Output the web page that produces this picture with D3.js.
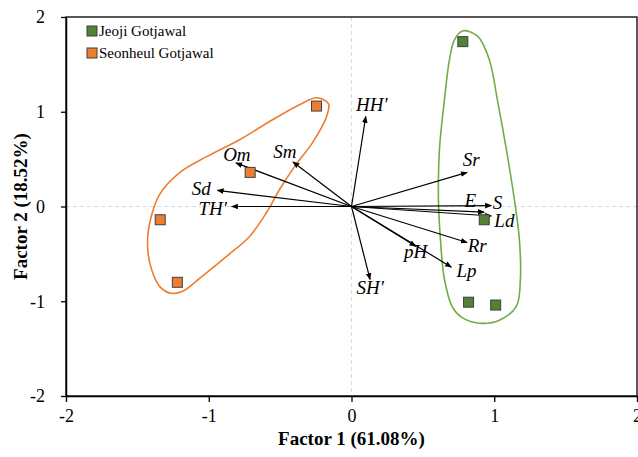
<!DOCTYPE html>
<html>
<head>
<meta charset="utf-8">
<script src="https://cdn.jsdelivr.net/npm/d3@7"></script>
<style>
  body { margin: 0; background: #fff; }
  svg text { font-family: "Liberation Serif", "Times New Roman", serif; }
</style>
</head>
<body>
<div id="chart"></div>
<script>
/* PCA biplot — Jeoji vs Seonheul Gotjawal sites with variable loadings. */

const ticks = [-2, -1, 0, 1, 2];

// site scores
const jeoji = [[0.78, 1.74], [0.93, -0.14], [0.82, -1.01], [1.01, -1.04]];
const seonheul = [[-0.245, 1.06], [-0.71, 0.36], [-1.34, -0.14], [-1.22, -0.80]];

// variable loadings
const varNames = ["HH'", "Sm", "Om", "Sd", "TH'", "Sr", "E", "S", "Ld", "Rr", "pH", "Lp", "SH'"];
const varX = [0.10, -0.41, -0.81, -0.94, -0.84, 0.81, 0.93, 0.98, 0.98, 0.81, 0.45, 0.70, 0.13];
const varY = [0.95, 0.47, 0.46, 0.17, 0.00, 0.36, -0.06, 0.01, -0.10, -0.38, -0.42, -0.64, -0.77];

// hand-drawn group outlines (data units)
const seonheulHull = [
  [-0.245, 1.147], [-0.161, 1.084], [-0.175, 0.947], [-0.273, 0.674], [-0.399, 0.421],
  [-0.504, 0.179], [-0.595, -0.063], [-0.714, -0.316], [-0.875, -0.526], [-1.064, -0.758],
  [-1.183, -0.895], [-1.261, -0.916], [-1.338, -0.853], [-1.401, -0.663], [-1.429, -0.400],
  [-1.408, -0.137], [-1.345, 0.126], [-1.204, 0.358], [-1.015, 0.526], [-0.784, 0.705],
  [-0.553, 0.916], [-0.364, 1.074]
];
const jeojiHull = [
  [0.777, 1.853], [0.882, 1.800], [0.966, 1.547], [1.022, 1.126], [1.085, 0.600],
  [1.141, 0.074], [1.176, -0.347], [1.183, -0.768], [1.155, -1.053], [1.036, -1.200],
  [0.896, -1.232], [0.770, -1.168], [0.707, -1.063], [0.651, -0.768], [0.623, -0.347],
  [0.609, 0.074], [0.616, 0.600], [0.651, 1.126], [0.686, 1.547], [0.721, 1.758]
];

const W = 638, H = 457;
const margin = { top: 17, right: 1, bottom: 61, left: 66 };

const svg = d3.select("#chart").append("svg")
  .attr("width", W).attr("height", H);

const x = d3.scaleLinear().domain([-2, 2]).range([margin.left, W - margin.right]);
const y = d3.scaleLinear().domain([-2, 2]).range([H - margin.bottom, margin.top]);

svg.append("defs").append("marker")
  .attr("id", "arrow").attr("viewBox", "0 0 10 10")
  .attr("refX", 9).attr("refY", 5)
  .attr("markerWidth", 7).attr("markerHeight", 7)
  .attr("markerUnits", "userSpaceOnUse")
  .attr("orient", "auto")
  .append("path").attr("d", "M0,1 L10,5 L0,9 Z").attr("fill", "#000");

// zero reference lines
svg.append("line")
  .attr("x1", x(0)).attr("x2", x(0)).attr("y1", y(2)).attr("y2", y(-2))
  .attr("stroke", "#d9d9d9").attr("stroke-dasharray", "4,3");
svg.append("line")
  .attr("x1", x(-2)).attr("x2", x(2)).attr("y1", y(0)).attr("y2", y(0))
  .attr("stroke", "#d9d9d9").attr("stroke-dasharray", "4,3");

// frame
svg.append("rect")
  .attr("x", x(-2)).attr("y", y(2))
  .attr("width", x(2) - x(-2)).attr("height", y(-2) - y(2))
  .attr("fill", "none").attr("stroke", "#000").attr("stroke-width", 1.3);

// axes
const xAxis = svg.append("g")
  .attr("transform", `translate(0,${y(-2)})`)
  .call(d3.axisBottom(x).tickValues(ticks).tickSize(6).tickSizeOuter(0).tickFormat(d => String(d)));
const yAxis = svg.append("g")
  .attr("transform", `translate(${x(-2)},0)`)
  .call(d3.axisLeft(y).tickValues(ticks).tickSize(5).tickSizeOuter(0).tickFormat(d => String(d)));
[xAxis, yAxis].forEach(a => {
  a.select(".domain").attr("stroke", "#000").attr("stroke-width", 1.5);
  a.selectAll(".tick line").attr("stroke", "#000").attr("stroke-width", 1.3);
  a.selectAll(".tick text")
    .attr("font-family", "Liberation Serif, Times New Roman, serif")
    .attr("font-size", 18).attr("fill", "#000");
});
xAxis.selectAll(".tick text").attr("dy", "0.95em");
yAxis.selectAll(".tick text").attr("dx", "-13px");

// group outlines
const outline = d3.line().x(d => x(d[0])).y(d => y(d[1])).curve(d3.curveCatmullRomClosed);
svg.append("path").attr("d", outline(seonheulHull))
  .attr("fill", "none").attr("stroke", "#ED7D31").attr("stroke-width", 1.6);
svg.append("path").attr("d", outline(jeojiHull))
  .attr("fill", "none").attr("stroke", "#70AD47").attr("stroke-width", 1.6);

// loading vectors (label offsets from arrow tip, px)
const labelOff = {
  "HH'": [6, -5], "Sm": [-8, -4], "Om": [1, -2], "Sd": [-16, 5], "TH'": [-19, 8],
  "Sr": [4, -6], "E": [-14, -5], "S": [6, 3], "Ld": [13, 11], "Rr": [10, 9],
  "pH": [0, 12], "Lp": [15, 10], "SH'": [0, 15]
};
varNames.forEach((n, i) => {
  svg.append("line")
    .attr("x1", x(0)).attr("y1", y(0))
    .attr("x2", x(varX[i])).attr("y2", y(varY[i]))
    .attr("stroke", "#000").attr("stroke-width", 1.2)
    .attr("marker-end", "url(#arrow)");
  const o = labelOff[n];
  svg.append("text")
    .attr("x", x(varX[i]) + o[0]).attr("y", y(varY[i]) + o[1])
    .attr("text-anchor", "middle").attr("font-style", "italic")
    .attr("font-size", 19).attr("fill", "#000")
    .text(n);
});

// site markers
function squares(data, fill) {
  svg.selectAll(null).data(data).enter().append("rect")
    .attr("x", d => x(d[0]) - 5).attr("y", d => y(d[1]) - 5)
    .attr("width", 10).attr("height", 10)
    .attr("fill", fill).attr("stroke", "#404040").attr("stroke-width", 1);
}
squares(jeoji, "#548235");
squares(seonheul, "#ED7D31");

// legend
const legend = [["Jeoji Gotjawal", "#548235"], ["Seonheul Gotjawal", "#ED7D31"]];
legend.forEach((l, i) => {
  const ly = 31 + i * 22;
  svg.append("rect").attr("x", 87).attr("y", ly - 5).attr("width", 10).attr("height", 10)
    .attr("fill", l[1]).attr("stroke", "#404040").attr("stroke-width", 1);
  svg.append("text").attr("x", 99).attr("y", ly + 5)
    .attr("font-size", 15).attr("fill", "#000").text(l[0]);
});

// axis titles
svg.append("text")
  .attr("x", x(0)).attr("y", 445).attr("text-anchor", "middle")
  .attr("font-size", 19).attr("font-weight", "bold").text("Factor 1 (61.08%)");
svg.append("text")
  .attr("transform", `translate(27,${y(0)}) rotate(-90)`).attr("text-anchor", "middle")
  .attr("font-size", 19).attr("font-weight", "bold").text("Factor 2 (18.52%)");
</script>
</body>
</html>
